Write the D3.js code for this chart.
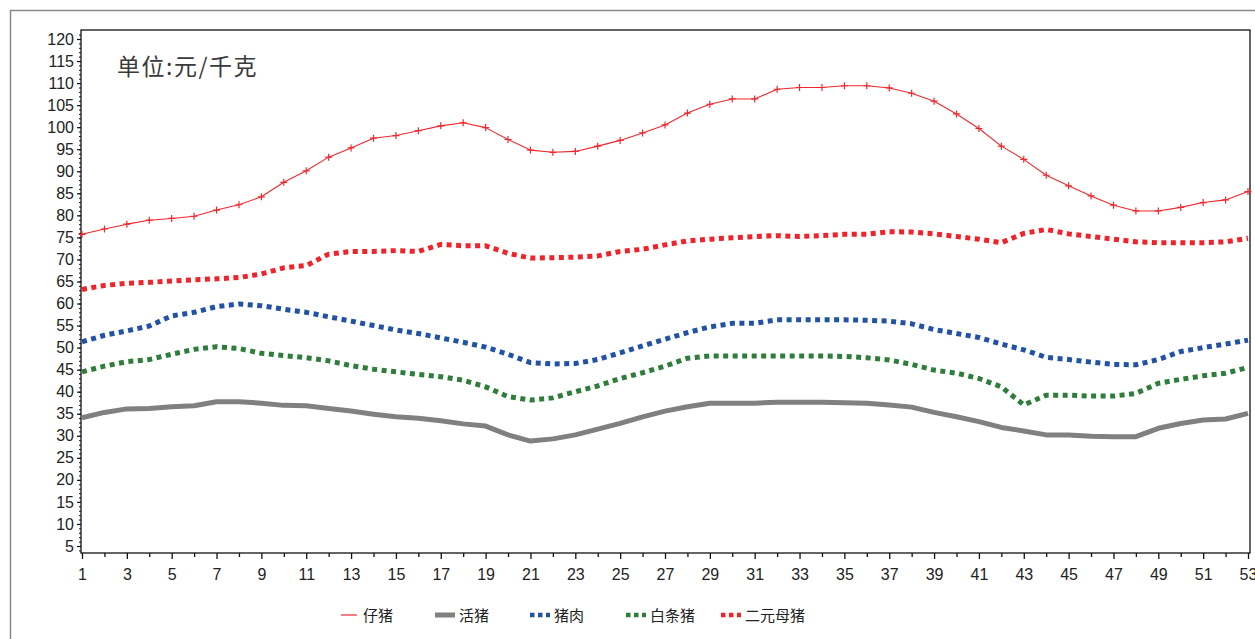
<!DOCTYPE html>
<html>
<head>
<meta charset="utf-8">
<script src="https://cdn.jsdelivr.net/npm/d3@7/dist/d3.min.js"></script>
<style>
  html, body { margin: 0; padding: 0; background: #fff; }
  svg { display: block; }
</style>
</head>
<body>
<svg id="chart" width="1255" height="639"></svg>
<script>
// ---------------- data ----------------
const weeks = d3.range(1, 54);
const xTickLabels = d3.range(1, 54, 2);
const yTickLabels = d3.range(5, 121, 5);
const seriesNames = ["仔猪", "活猪", "猪肉", "白条猪", "二元母猪"];

const piglet = [75.7, 76.9, 78.0, 78.9, 79.3, 79.8, 81.2, 82.4, 84.2, 87.5,
  90.1, 93.2, 95.3, 97.5, 98.1, 99.2, 100.3, 101.0, 99.9, 97.2,
  94.8, 94.3, 94.5, 95.7, 97.0, 98.7, 100.5, 103.2, 105.2, 106.4,
  106.4, 108.6, 109.0, 109.0, 109.4, 109.4, 108.9, 107.7, 105.9, 103.0,
  99.7, 95.7, 92.7, 89.1, 86.7, 84.4, 82.3, 81.0, 81.0, 81.8,
  82.9, 83.5, 85.4];
const livePig = [34.1, 35.3, 36.1, 36.2, 36.6, 36.8, 37.7, 37.7, 37.4, 36.9,
  36.8, 36.2, 35.6, 34.9, 34.3, 34.0, 33.4, 32.7, 32.2, 30.2,
  28.8, 29.3, 30.2, 31.5, 32.8, 34.3, 35.6, 36.6, 37.4, 37.4,
  37.4, 37.6, 37.6, 37.6, 37.5, 37.4, 37.0, 36.5, 35.3, 34.3,
  33.2, 31.9, 31.1, 30.2, 30.2, 29.9, 29.8, 29.8, 31.7, 32.8,
  33.6, 33.8, 35.1];
const pork = [51.3, 52.8, 53.8, 54.9, 57.2, 58.0, 59.3, 59.9, 59.5, 58.7,
  58.0, 57.0, 56.0, 55.0, 54.0, 53.2, 52.2, 51.2, 50.1, 48.5,
  46.6, 46.3, 46.4, 47.3, 48.8, 50.4, 51.9, 53.4, 54.7, 55.5,
  55.5, 56.3, 56.3, 56.3, 56.3, 56.2, 56.0, 55.4, 54.1, 53.2,
  52.3, 50.8, 49.5, 47.8, 47.3, 46.7, 46.2, 46.1, 47.3, 49.1,
  50.0, 50.8, 51.7];
const carcass = [44.5, 45.8, 46.8, 47.3, 48.5, 49.6, 50.2, 49.8, 48.7, 48.2,
  47.7, 47.0, 45.9, 45.1, 44.5, 43.9, 43.4, 42.6, 41.1, 38.9,
  38.1, 38.6, 40.0, 41.3, 43.0, 44.3, 45.8, 47.6, 48.1, 48.1,
  48.1, 48.1, 48.1, 48.1, 48.0, 47.7, 47.2, 46.2, 44.9, 44.2,
  43.0, 41.1, 37.0, 39.2, 39.2, 39.0, 39.0, 39.6, 41.9, 42.8,
  43.6, 44.2, 45.5];
const sow = [63.2, 64.1, 64.6, 64.8, 65.1, 65.4, 65.6, 65.9, 66.7, 68.1,
  68.6, 71.2, 71.8, 71.8, 72.0, 71.8, 73.4, 73.1, 73.1, 71.4,
  70.3, 70.4, 70.5, 70.8, 71.8, 72.3, 73.3, 74.2, 74.6, 74.9,
  75.2, 75.4, 75.2, 75.4, 75.7, 75.7, 76.3, 76.2, 75.8, 75.2,
  74.6, 73.8, 75.9, 76.8, 75.8, 75.2, 74.6, 74.0, 73.8, 73.8,
  73.8, 74.0, 74.8];
const unitLabel = "单位:元/千克";

// ---------------- layout / style ----------------
const W = 1255, H = 639;
const plot = { left: 81, right: 1250, top: 30, bottom: 553 };
const styles = [
  { color: "#f0282d", width: 1.1, dash: null, marker: true },
  { color: "#808080", width: 5, dash: null, marker: false },
  { color: "#2152a3", width: 5, dash: "5,4.5", marker: false },
  { color: "#2e7d3a", width: 5, dash: "5,4.5", marker: false },
  { color: "#ef2329", width: 5, dash: "5,4.5", marker: false }
];
const seriesData = [piglet, livePig, pork, carcass, sow];

const svg = d3.select("#chart");

// outer gray frame
svg.append("rect")
  .attr("x", 10.5).attr("y", 10.5)
  .attr("width", W + 20).attr("height", H + 20)
  .attr("fill", "none").attr("stroke", "#8a8a8a").attr("stroke-width", 1.5);

const x = d3.scaleLinear().domain([1, 53]).range([82, 1248]);
const y = d3.scaleLinear().domain([5, 120]).range([546, 39]);

// plot frame
svg.append("rect")
  .attr("x", plot.left).attr("y", plot.top)
  .attr("width", plot.right - plot.left).attr("height", plot.bottom - plot.top)
  .attr("fill", "none").attr("stroke", "#111").attr("stroke-width", 1.3);

const fontNum = "'Liberation Sans', Arial, sans-serif";
const fontCJK = "'Noto Sans CJK SC', 'Noto Sans', sans-serif";

// y axis
const yAxisG = svg.append("g").attr("transform", `translate(${plot.left},0)`);
yAxisG.call(d3.axisLeft(y).tickValues(yTickLabels).tickSize(4).tickPadding(3).tickFormat(d3.format("d")));
yAxisG.select(".domain").remove();
yAxisG.selectAll("text").attr("font-family", fontNum).attr("font-size", 16).attr("fill", "#222");
yAxisG.selectAll("line").attr("stroke", "#111").attr("stroke-width", 1.2);

const yMinorG = svg.append("g").attr("transform", `translate(${plot.left},0)`);
yMinorG.call(d3.axisLeft(y).tickValues(d3.range(4, 122)).tickSize(2).tickFormat(""));
yMinorG.select(".domain").remove();
yMinorG.selectAll("line").attr("stroke", "#111").attr("stroke-width", 1);

// x axis
const xAxisG = svg.append("g").attr("transform", `translate(0,${plot.bottom})`);
xAxisG.call(d3.axisBottom(x).tickValues(xTickLabels).tickSize(6).tickPadding(10).tickFormat(d3.format("d")));
xAxisG.select(".domain").remove();
xAxisG.selectAll("text").attr("font-family", fontNum).attr("font-size", 16).attr("fill", "#222");
xAxisG.selectAll("line").attr("stroke", "#111").attr("stroke-width", 1.3);

const xMinorG = svg.append("g").attr("transform", `translate(0,${plot.bottom})`);
xMinorG.call(d3.axisBottom(x).tickValues(d3.range(2, 53, 2)).tickSize(4).tickFormat(""));
xMinorG.select(".domain").remove();
xMinorG.selectAll("line").attr("stroke", "#111").attr("stroke-width", 1.3);

// lines
const line = d3.line().x((d, i) => x(weeks[i])).y(d => y(d));
seriesData.forEach((vals, k) => {
  const st = styles[k];
  svg.append("path")
    .datum(vals)
    .attr("d", line)
    .attr("fill", "none")
    .attr("stroke", st.color)
    .attr("stroke-width", st.width)
    .attr("stroke-dasharray", st.dash)
    .attr("stroke-linejoin", "round");
  if (st.marker) {
    svg.append("g").selectAll("path")
      .data(vals)
      .join("path")
      .attr("d", (d, i) => {
        const cx = x(weeks[i]), cy = y(d), r = 3.5;
        return `M${cx - r},${cy}H${cx + r}M${cx},${cy - r}V${cy + r}`;
      })
      .attr("stroke", st.color)
      .attr("stroke-width", 1.2)
      .attr("fill", "none");
  }
});

// unit label
svg.append("text")
  .attr("x", 117).attr("y", 75)
  .attr("font-family", fontCJK)
  .attr("font-size", 23)
  .attr("letter-spacing", 1.5)
  .attr("fill", "#3a3a3a")
  .text(unitLabel);

// legend
const legendX = [341, 435, 530, 626, 721];
const legendY = 617;
const lg = svg.append("g");
seriesNames.forEach((name, k) => {
  const st = styles[k];
  const g = lg.append("g").attr("transform", `translate(${legendX[k]},${legendY})`);
  g.append("line")
    .attr("x1", 0).attr("x2", k === 0 ? 16 : 20)
    .attr("y1", -2).attr("y2", -2)
    .attr("stroke", st.color)
    .attr("stroke-width", k === 0 ? 1.2 : (k === 1 ? 5 : 4.5))
    .attr("stroke-dasharray", k >= 2 ? "4.5,3.5" : null);
  g.append("text")
    .attr("x", k === 0 ? 22 : 24).attr("y", 4)
    .attr("font-family", fontCJK)
    .attr("font-size", 15)
    .attr("fill", "#222")
    .text(name);
});
</script>
</body>
</html>
